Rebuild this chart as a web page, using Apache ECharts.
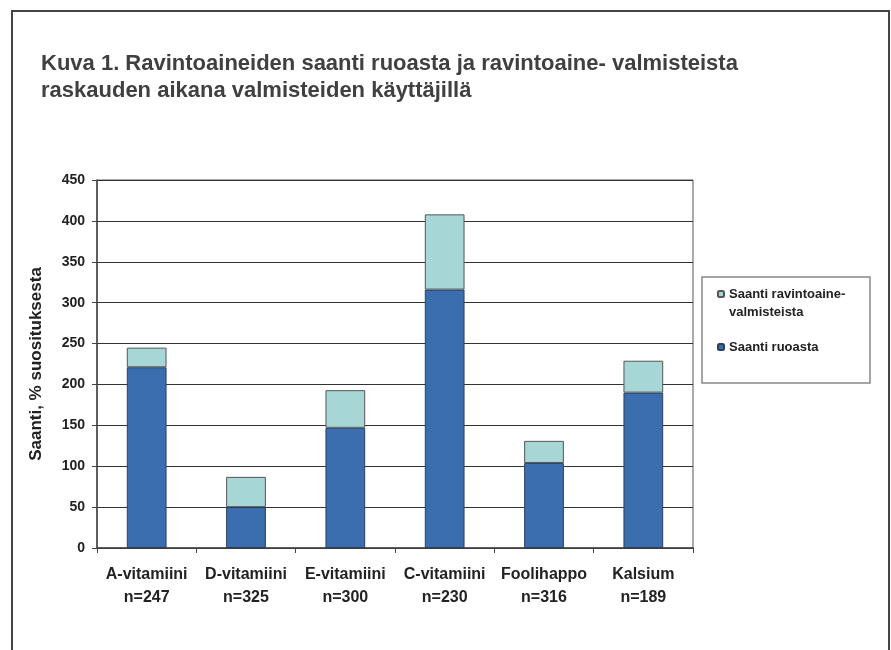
<!DOCTYPE html>
<html>
<head>
<meta charset="utf-8">
<script src="https://cdn.jsdelivr.net/npm/echarts@6/dist/echarts.min.js"></script>
<style>
html,body{margin:0;padding:0;background:#fff;}
#chart{width:891px;height:650px;}
</style>
</head>
<body>
<div id="chart"></div>
<script>
var categories = ['A-vitamiini\nn=247', 'D-vitamiini\nn=325', 'E-vitamiini\nn=300', 'C-vitamiini\nn=230', 'Foolihappo\nn=316', 'Kalsium\nn=189'];
var foodValues = [221, 50, 147, 316, 104, 190];
var supplementValues = [24, 37, 46, 92, 27, 39];
var seriesNames = ['Saanti ruoasta', 'Saanti ravintoaine-\nvalmisteista'];
var yTicks = [0, 50, 100, 150, 200, 250, 300, 350, 400, 450];

var FONT = 'Liberation Sans, Arial, sans-serif';
var chart = echarts.init(document.getElementById('chart'));
chart.setOption({
  backgroundColor: '#fff',
  animation: false,
  title: {
    text: 'Kuva 1. Ravintoaineiden saanti ruoasta ja ravintoaine- valmisteista\nraskauden aikana valmisteiden käyttäjillä',
    left: 36, top: 45,
    textStyle: { fontFamily: FONT, fontSize: 22, fontWeight: 'bold', color: '#404040', lineHeight: 27 }
  },
  graphic: [
    { type: 'rect', shape: { x: 12, y: 11, width: 877, height: 660 }, style: { fill: 'none', stroke: '#444', lineWidth: 2 }, silent: true },
    { type: 'rect', shape: { x: 702, y: 277, width: 168, height: 106 }, style: { fill: '#fff', stroke: '#888', lineWidth: 1.5 }, silent: true, z: 0 }
  ],
  legend: {
    data: [seriesNames[1], seriesNames[0]],
    formatter: function (name) { return name === seriesNames[1] ? '\n' + name : name; },
    orient: 'vertical',
    left: 717, top: 267,
    padding: 0,
    itemWidth: 6, itemHeight: 6, itemGap: 17,
    textStyle: { fontFamily: FONT, fontSize: 13, fontWeight: 'bold', color: '#222', lineHeight: 18 },
    z: 10
  },
  grid: {
    left: 97, right: 198, top: 180, bottom: 102,
    show: true, borderColor: '#555', borderWidth: 1, backgroundColor: '#fff'
  },
  xAxis: {
    type: 'category',
    data: categories,
    axisLine: { lineStyle: { color: '#444', width: 1.5 } },
    axisTick: { show: true, length: 5, lineStyle: { color: '#444' } },
    axisLabel: { interval: 0, hideOverlap: false, fontFamily: FONT, fontSize: 16, fontWeight: 'bold', color: '#222', lineHeight: 23, margin: 15 }
  },
  yAxis: {
    type: 'value',
    min: 0, max: 450, interval: 50,
    name: 'Saanti, % suosituksesta',
    nameLocation: 'middle',
    nameGap: 52,
    nameTextStyle: { fontFamily: FONT, fontSize: 17, fontWeight: 'bold', color: '#222' },
    axisLine: { show: true, lineStyle: { color: '#444', width: 1.5 } },
    axisTick: { show: true, length: 5, lineStyle: { color: '#444' } },
    axisLabel: { fontFamily: FONT, fontSize: 14, fontWeight: 'bold', color: '#222', margin: 12,
      formatter: function (v) { return yTicks.indexOf(v) >= 0 ? String(v) : ''; } },
    splitLine: { show: true, lineStyle: { color: '#333', width: 1.2 } }
  },
  series: [
    { name: seriesNames[0], type: 'bar', stack: 's', data: foodValues, barWidth: '40%',
      itemStyle: { color: '#3a6eae', borderColor: '#2a3f5f', borderWidth: 1 } },
    { name: seriesNames[1], type: 'bar', stack: 's', data: supplementValues, barWidth: '40%',
      itemStyle: { color: '#a6d6d6', borderColor: '#555', borderWidth: 1 } }
  ]
});
</script>
</body>
</html>
